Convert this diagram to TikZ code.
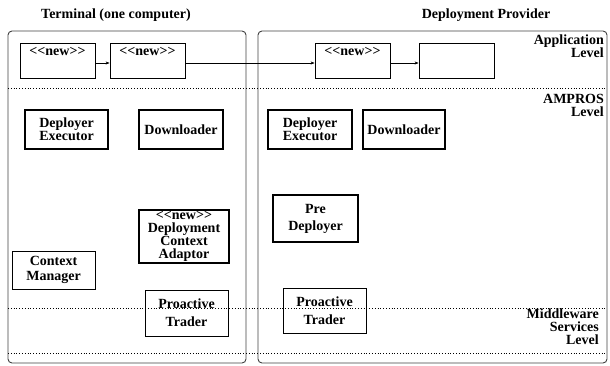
\documentclass[tikz,border=0pt]{standalone}
\usepackage{fontspec}
\setmainfont{Liberation Serif}
\usetikzlibrary{arrows.meta,calc}
\begin{document}
\begin{tikzpicture}[x=1pt,y=-1pt,
  every node/.style={font=\bfseries\fontsize{14}{13}\selectfont, align=center, inner sep=0pt},
  container/.style={draw=black!75, line width=0.9pt, rounded corners=4pt},
  thinbox/.style={draw, line width=0.8pt},
  thickbox/.style={draw, line width=2.8pt},
  level/.style={dotted, line width=0.8pt},
  conn/.style={line width=0.6pt, -{Stealth[length=4pt,width=3pt]}},
  lvl/.style={anchor=north east, align=right},
  newlbl/.style={anchor=north, yshift=-4pt}
]
\useasboundingbox (0,0) rectangle (610,365);
% containers
\node[container, minimum width=238, minimum height=332] (term) at (127,197) {};
\node[container, minimum width=349, minimum height=332] (prov) at (432.5,197) {};
\node (termt) at (116,15) {Terminal (one computer)};
\node (provt) at (486,15) {Deployment Provider};
% level lines
\coordinate (l1a) at (8,88); \coordinate (l1b) at (607,88);
\coordinate (l2a) at (8,308); \coordinate (l2b) at (607,308);
\coordinate (l3a) at (8,353); \coordinate (l3b) at (607,353);
\draw[level] (l1a) -- (l1b);
\draw[level] (l2a) -- (l2b);
\draw[level] (l3a) -- (l3b);
% level labels
\node[lvl] (app) at (604,35) {Application\\Level};
\node[lvl] (amp) at (604,94) {AMPROS\\Level};
\node[lvl] (mid) at (599,309) {Middleware\\Services\\Level};
% application boxes
\node[thinbox, minimum width=75, minimum height=35] (b1) at (57.5,61) {};
\node[thinbox, minimum width=75, minimum height=35] (b2) at (147.5,61) {};
\node[thinbox, minimum width=75, minimum height=35] (b3) at (352.5,61) {};
\node[thinbox, minimum width=75, minimum height=35] (b4) at (456.5,61) {};
\node[newlbl] (n1) at (b1.north) {<{}<new>{}>};
\node[newlbl] (n2) at (b2.north) {<{}<new>{}>};
\node[newlbl] (n3) at (b3.north) {<{}<new>{}>};
\draw[conn] ($(b1.east)+(0,2)$) -- ($(b2.west)+(0,2)$);
\draw[conn] ($(b2.east)+(0,2)$) -- ($(b3.west)+(0,2)$);
\draw[conn] ($(b3.east)+(0,2)$) -- ($(b4.west)+(0,2)$);
% AMPROS level
\node[thickbox, minimum width=83, minimum height=39] (de1) at (66.5,129.5) {Deployer\\Executor};
\node[thickbox, minimum width=84, minimum height=39] (dl1) at (181,129.5) {Downloader};
\node[thickbox, minimum width=84, minimum height=39] (de2) at (310,129.5) {Deployer\\Executor};
\node[thickbox, minimum width=82, minimum height=39] (dl2) at (404,129.5) {Downloader};
\node[thickbox, minimum width=85, minimum height=47, font=\bfseries\fontsize{14}{17}\selectfont] (pre) at (315.5,218.5) {Pre\\Deployer};
\node[thickbox, minimum width=90, minimum height=53] (dca) at (184,236.5) {<{}<new>{}>\\Deployment\\Context\\Adaptor};
\node[thinbox, minimum width=83, minimum height=38, font=\bfseries\fontsize{14}{15}\selectfont] (cm) at (53.5,270) {Context\\Manager};
\node[thinbox, minimum width=83, minimum height=46, font=\bfseries\fontsize{14}{18}\selectfont] (pt1) at (186.5,313) {Proactive\\Trader};
\node[thinbox, minimum width=83, minimum height=45, font=\bfseries\fontsize{14}{18}\selectfont] (pt2) at (324.5,310.5) {Proactive\\Trader};
\end{tikzpicture}
\end{document}
